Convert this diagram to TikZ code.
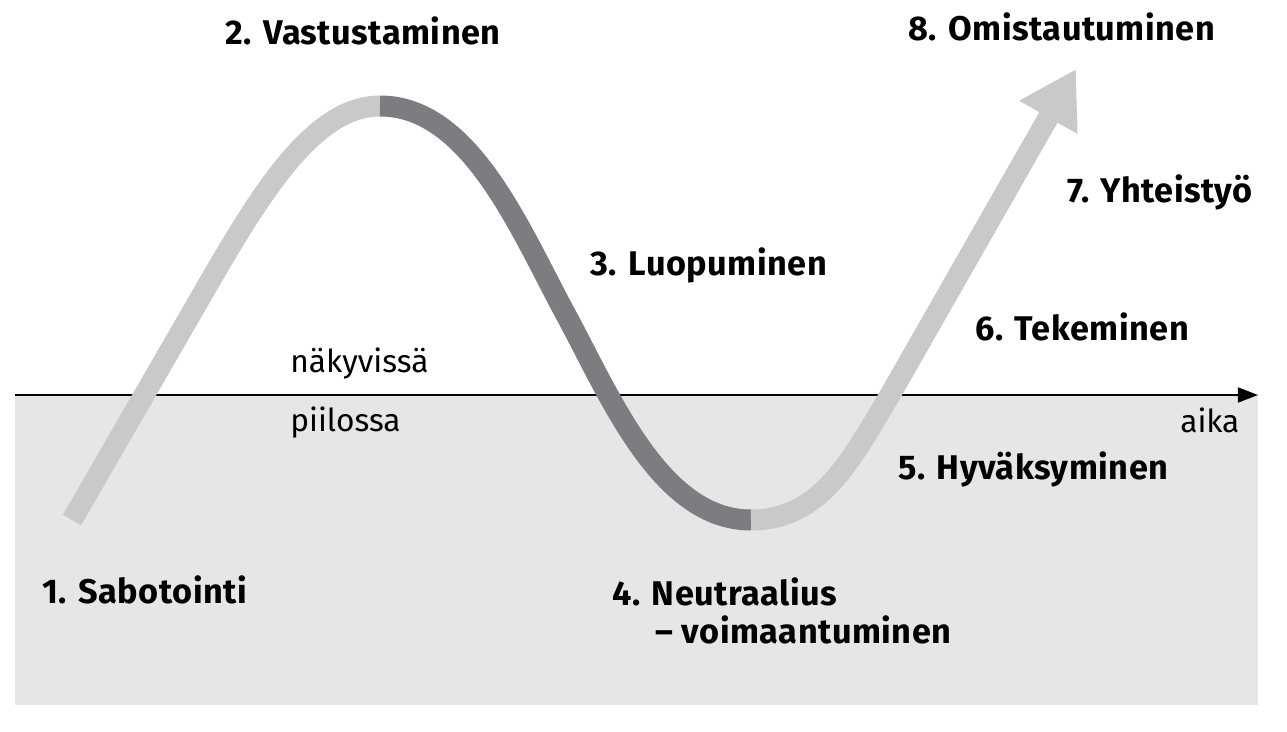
\documentclass[tikz,border=0pt]{standalone}
\usepackage{fontspec}
\setmainfont{Fira Sans}
\newfontfamily\phasefont[LetterSpace=1.5]{Fira Sans}
\usetikzlibrary{arrows.meta}
\definecolor{bandlight}{HTML}{C8C9CB}
\definecolor{banddark}{HTML}{7C7D80}
\definecolor{hidden}{HTML}{E5E6E5}
\begin{document}
\begin{tikzpicture}[x=0.02cm, y=-0.02cm,
		band/.style={line width=11.95pt, line cap=butt},
		phase/.style={anchor=base west, inner sep=0pt, font=\fontsize{19.5}{22}\phasefont\bfseries},
		side/.style={anchor=base west, inner sep=0pt, font=\fontsize{18}{22}\selectfont}]
		\useasboundingbox (0,0) rectangle (1287,732);
		\fill[hidden] (15,395) rectangle (1258,705);
		\coordinate (o) at (15,395);
		\coordinate (t) at (1258,395);
		\draw[line width=1.1pt, -{Triangle[length=11.4pt, width=8.5pt]}] (o) -- (t);
		% the wave
		\coordinate (start) at (72,520);
		\coordinate (peak) at (380,106);
		\coordinate (mid) at (565,313);
		\coordinate (trough) at (751,520);
		\coordinate (rise) at (890,395);
		\coordinate (tip) at (1076,69);
		\draw[band, bandlight] (start) -- (195,307) .. controls (255,203) and (310,106) .. (peak);
		\draw[band, banddark] (peak) .. controls (470,106) and (520,230) .. (mid)
		.. controls (610,396) and (660,520) .. (trough);
		\draw[band, bandlight, -{Triangle[length=31.7pt, width=35.8pt]}] (trough)
		.. controls (820,520) and (850,462) .. (rise) -- (tip);
		% labels
		\node[phase] (l1) at (42,603) {1. Sabotointi};
		\node[phase] (l2) at (225,45) {2. Vastustaminen};
		\node[phase] (l3) at (590,276) {3. Luopuminen};
		\node[phase] (l4) at (612,605) {4. Neutraalius};
		\node[phase] (l4b) at (655,643) {– voimaantuminen};
		\node[phase] (l5) at (898,480) {5. Hyväksyminen};
		\node[phase] (l6) at (975,341) {6. Tekeminen};
		\node[phase] (l7) at (1067,203) {7. Yhteistyö};
		\node[phase] (l8) at (908,41) {8. Omistautuminen};
		\node[side] (up) at (290,373) {näkyvissä};
		\node[side] (down) at (290,432) {piilossa};
		\node[side] (aika) at (1180,433) {aika};
	\end{tikzpicture}
\end{document}
